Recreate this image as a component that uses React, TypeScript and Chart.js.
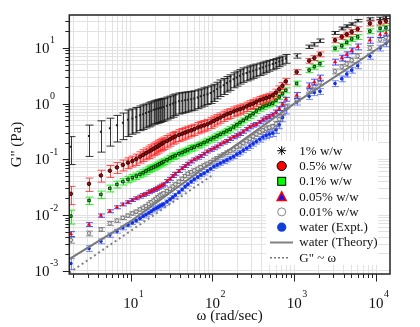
import React, { useEffect, useRef } from "react";
import { Chart, registerables } from "chart.js";
Chart.register(...registerables);

const FONT = "'Liberation Serif', 'DejaVu Serif', serif";

// shared frequencies (rad/s) of the dense low/mid-frequency measurement
const omegaDense = [1.86, 3.1, 4.33, 5.57, 6.8, 8.04, 9.27, 10.5, 11.7, 13.0, 14.2, 15.4, 16.7, 17.9, 19.1, 20.4, 21.6, 22.8, 24.1, 25.3, 27.8, 30.3, 32.7, 35.2, 38.9, 42.6, 46.3, 50, 55, 60, 66, 72, 79, 87, 95, 104, 114, 125, 137, 150, 165, 181, 198, 217, 238, 261, 286, 314, 344, 377, 413, 453, 497, 545, 597, 655, 718, 787];
// high-frequency measurement
const omegaHigh = [1070, 1520, 1760, 2060, 3150, 3800, 4370, 5030, 5960, 8400, 11200, 13200];

// 1% w/w
const g1Dense = [0.168, 0.262, 0.313, 0.36, 0.41, 0.452, 0.513, 0.543, 0.575, 0.617, 0.646, 0.676, 0.708, 0.741, 0.776, 0.794, 0.813, 0.832, 0.851, 0.871, 0.912, 0.955, 1.0, 1.05, 1.10, 1.12, 1.15, 1.17, 1.20, 1.23, 1.29, 1.35, 1.41, 1.48, 1.55, 1.66, 1.82, 2.0, 2.14, 2.34, 2.51, 2.75, 2.95, 3.16, 3.39, 3.55, 3.72, 3.89, 4.07, 4.27, 4.47, 4.68, 4.90, 5.13, 5.37, 5.69, 6.03, 6.46];
const g1High = [7.2, 10.5, 11.6, 13.5, 18.6, 22.4, 24.5, 26.9, 30.9, 33.1, 33.9, 35.5];
const e1Dense = [0.52, 0.57, 0.57, 0.52, 0.5, 0.5, 0.5, 0.48, 0.48, 0.47, 0.47, 0.46, 0.46, 0.46, 0.45, 0.45, 0.45, 0.45, 0.44, 0.44, 0.44, 0.43, 0.43, 0.42, 0.41, 0.4, 0.4, 0.39, 0.38, 0.38, 0.37, 0.36, 0.36, 0.35, 0.35, 0.34, 0.33, 0.33, 0.32, 0.31, 0.31, 0.3, 0.3, 0.29, 0.29, 0.28, 0.28, 0.27, 0.26, 0.25, 0.24, 0.23, 0.22, 0.21, 0.2, 0.19, 0.18, 0.18];
const e1High = [0.09, 0.07, 0.07, 0.07, 0.06, 0.06, 0.06, 0.05, 0.05, 0.05, 0.05, 0.05];

// 0.5% w/w
const g2Dense = [0.024, 0.0363, 0.0513, 0.0624, 0.0716, 0.0794, 0.0871, 0.0933, 0.101, 0.111, 0.120, 0.129, 0.138, 0.146, 0.155, 0.164, 0.172, 0.182, 0.191, 0.200, 0.214, 0.229, 0.245, 0.257, 0.275, 0.288, 0.302, 0.316, 0.331, 0.347, 0.372, 0.389, 0.407, 0.427, 0.457, 0.49, 0.525, 0.562, 0.603, 0.646, 0.676, 0.724, 0.759, 0.794, 0.832, 0.891, 0.955, 1.0, 1.07, 1.15, 1.20, 1.26, 1.32, 1.41, 1.58, 1.82, 2.09, 2.51];
const g2High = [3.7, 5.9, 6.6, 7.7, 13.8, 15.8, 17.5, 19.4, 21.8, 27.5, 28.8, 30.3];
const e2Dense = [0.36, 0.27, 0.24, 0.24, 0.22, 0.22, 0.22, 0.22, 0.23, 0.23, 0.24, 0.24, 0.25, 0.25, 0.25, 0.25, 0.25, 0.25, 0.25, 0.25, 0.25, 0.25, 0.24, 0.24, 0.24, 0.24, 0.24, 0.24, 0.23, 0.23, 0.23, 0.23, 0.22, 0.22, 0.22, 0.22, 0.21, 0.21, 0.21, 0.2, 0.2, 0.2, 0.2, 0.19, 0.19, 0.19, 0.18, 0.18, 0.18, 0.17, 0.17, 0.16, 0.16, 0.15, 0.15, 0.14, 0.14, 0.13];
const e2High = [0.1, 0.1, 0.1, 0.1, 0.1, 0.1, 0.1, 0.1, 0.1, 0.1, 0.1, 0.1];

// 0.1% w/w
const g3Dense = [0.00955, 0.0182, 0.0234, 0.0302, 0.0355, 0.0398, 0.0437, 0.0468, 0.0501, 0.0537, 0.0575, 0.0617, 0.0661, 0.0692, 0.0724, 0.0759, 0.0794, 0.0832, 0.0871, 0.0912, 0.0977, 0.105, 0.112, 0.117, 0.126, 0.132, 0.141, 0.148, 0.158, 0.166, 0.178, 0.186, 0.2, 0.214, 0.229, 0.245, 0.263, 0.282, 0.302, 0.324, 0.347, 0.38, 0.417, 0.457, 0.501, 0.55, 0.603, 0.661, 0.74, 0.813, 0.871, 0.933, 0.977, 1.02, 1.15, 1.32, 1.51, 1.74];
const g3High = [2.3, 4.0, 4.6, 5.2, 9.8, 10.9, 12.6, 14.5, 15.8, 20, 22.4, 23];
const e3Dense = [0.28, 0.15, 0.15, 0.14, 0.14, 0.13, 0.13, 0.13, 0.13, 0.13, 0.13, 0.13, 0.13, 0.13, 0.12, 0.12, 0.12, 0.12, 0.12, 0.12, 0.12, 0.12, 0.12, 0.12, 0.12, 0.12, 0.12, 0.12, 0.12, 0.12, 0.11, 0.11, 0.11, 0.11, 0.11, 0.11, 0.11, 0.11, 0.11, 0.11, 0.11, 0.11, 0.11, 0.11, 0.1, 0.1, 0.1, 0.1, 0.1, 0.1, 0.1, 0.1, 0.1, 0.1, 0.1, 0.1, 0.1, 0.1];
const e3High = [0.1, 0.1, 0.1, 0.1, 0.1, 0.1, 0.1, 0.1, 0.1, 0.1, 0.1, 0.1];

// 0.05% w/w
const g4Dense = [0.00457, 0.00676, 0.00977, 0.0117, 0.0138, 0.0155, 0.017, 0.0186, 0.02, 0.0214, 0.0229, 0.024, 0.0257, 0.0269, 0.0282, 0.0295, 0.0309, 0.0324, 0.0339, 0.0355, 0.0407, 0.0447, 0.0501, 0.055, 0.0617, 0.0692, 0.0759, 0.0832, 0.0912, 0.1, 0.107, 0.115, 0.126, 0.138, 0.148, 0.158, 0.17, 0.186, 0.2, 0.214, 0.234, 0.251, 0.269, 0.288, 0.316, 0.347, 0.38, 0.407, 0.427, 0.468, 0.513, 0.55, 0.589, 0.631, 0.708, 0.813, 0.977, 1.20];
const g4High = [1.41, 2.1, 2.45, 2.9, 5.6, 6.6, 7.6, 8.9, 10.5, 13.8, 17.4, 18.6];
const e4Dense = [0.1, 0.08, 0.07, 0.06, 0.06, 0.06, 0.06, 0.06, 0.06, 0.06, 0.06, 0.06, 0.06, 0.06, 0.06, 0.06, 0.06, 0.06, 0.06, 0.06, 0.06, 0.06, 0.06, 0.06, 0.06, 0.06, 0.06, 0.06, 0.06, 0.06, 0.06, 0.06, 0.06, 0.06, 0.06, 0.06, 0.06, 0.06, 0.06, 0.06, 0.07, 0.07, 0.07, 0.07, 0.07, 0.07, 0.07, 0.07, 0.07, 0.07, 0.08, 0.08, 0.08, 0.08, 0.08, 0.08, 0.08, 0.08];
const e4High = [0.12, 0.12, 0.12, 0.12, 0.12, 0.12, 0.12, 0.12, 0.12, 0.12, 0.12, 0.12];

// 0.01% w/w
const g5Dense = [0.00355, 0.00468, 0.0055, 0.00708, 0.00794, 0.00891, 0.00977, 0.0107, 0.0115, 0.0126, 0.0135, 0.0145, 0.0158, 0.017, 0.0182, 0.0195, 0.0209, 0.0224, 0.0234, 0.0245, 0.0269, 0.0295, 0.0324, 0.0355, 0.0398, 0.0447, 0.0501, 0.055, 0.0589, 0.0631, 0.0676, 0.0724, 0.0776, 0.0832, 0.0891, 0.0977, 0.105, 0.115, 0.123, 0.132, 0.141, 0.151, 0.166, 0.178, 0.195, 0.214, 0.234, 0.257, 0.282, 0.309, 0.331, 0.355, 0.372, 0.389, 0.437, 0.525, 0.676, 0.891];
const g5High = [1.2, 1.78, 2.04, 2.4, 3.8, 4.6, 5.2, 6.0, 7.2, 10, 14.1, 15.5];
const e5Dense = [0.12, 0.1, 0.08, 0.08, 0.07, 0.07, 0.07, 0.07, 0.07, 0.07, 0.07, 0.07, 0.07, 0.07, 0.07, 0.07, 0.07, 0.07, 0.07, 0.07, 0.07, 0.07, 0.07, 0.07, 0.07, 0.07, 0.07, 0.07, 0.07, 0.07, 0.07, 0.07, 0.07, 0.07, 0.07, 0.07, 0.07, 0.07, 0.07, 0.07, 0.07, 0.07, 0.07, 0.07, 0.07, 0.07, 0.08, 0.08, 0.08, 0.08, 0.08, 0.08, 0.08, 0.09, 0.09, 0.09, 0.1, 0.1];
const e5High = [0.1, 0.1, 0.1, 0.1, 0.1, 0.1, 0.1, 0.1, 0.1, 0.1, 0.1, 0.1];

// water (Expt.)
const g6Dense = [0.00135, 0.00251, 0.00339, 0.00437, 0.00513, 0.00589, 0.00661, 0.00724, 0.00794, 0.00871, 0.00955, 0.0102, 0.011, 0.0117, 0.0126, 0.0132, 0.0138, 0.0145, 0.0151, 0.0158, 0.0174, 0.0191, 0.0209, 0.0229, 0.0257, 0.0288, 0.0324, 0.0355, 0.0398, 0.0437, 0.0479, 0.0525, 0.0562, 0.0617, 0.0676, 0.0741, 0.0794, 0.0851, 0.0912, 0.0977, 0.105, 0.112, 0.123, 0.132, 0.145, 0.158, 0.174, 0.191, 0.209, 0.229, 0.251, 0.269, 0.282, 0.295, 0.339, 0.417, 0.562, 0.794];
const g6High = [1.07, 1.35, 1.58, 1.66, 2.3, 2.8, 3.4, 4.0, 4.8, 7.1, 10, 12];
const e6Dense = [0.22, 0.12, 0.1, 0.09, 0.08, 0.08, 0.07, 0.07, 0.07, 0.07, 0.07, 0.07, 0.07, 0.07, 0.07, 0.07, 0.07, 0.07, 0.07, 0.07, 0.07, 0.07, 0.07, 0.07, 0.07, 0.07, 0.07, 0.07, 0.07, 0.07, 0.07, 0.07, 0.07, 0.07, 0.07, 0.07, 0.08, 0.08, 0.08, 0.08, 0.08, 0.08, 0.08, 0.09, 0.09, 0.09, 0.1, 0.1, 0.1, 0.11, 0.11, 0.12, 0.12, 0.13, 0.14, 0.15, 0.16, 0.18];
const e6High = [0.12, 0.12, 0.12, 0.12, 0.12, 0.12, 0.12, 0.12, 0.12, 0.12, 0.12, 0.12];

// water (Theory) line and G'' ~ omega guide
const theoryOmega = [1.78, 10, 100, 1000, 14800];
const theoryG = [0.00162, 0.0077, 0.09, 1.0, 13.5];
const guideOmega = [1.78, 100];
const guideG = [0.00092, 0.052];

const seriesLabels = ["1% w/w", "0.5% w/w", "0.1% w/w", "0.05% w/w", "0.01% w/w", "water (Expt.)", "water (Theory)", "G\" ~ ω"];

const xMinorTicks = [2, 3, 4, 5, 6, 7, 8, 9, 20, 30, 40, 50, 60, 70, 80, 90, 200, 300, 400, 500, 600, 700, 800, 900, 2000, 3000, 4000, 5000, 6000, 7000, 8000, 9000];
const xMajorTicks = [10, 100, 1000, 10000];
const xMajorExp = ["1", "2", "3", "4"];
const yMinorTicks = [0.002, 0.003, 0.004, 0.005, 0.006, 0.007, 0.008, 0.009, 0.02, 0.03, 0.04, 0.05, 0.06, 0.07, 0.08, 0.09, 0.2, 0.3, 0.4, 0.5, 0.6, 0.7, 0.8, 0.9, 2, 3, 4, 5, 6, 7, 8, 9, 20, 30];
const yMajorTicks = [0.001, 0.01, 0.1, 1, 10];
const yMajorExp = ["-3", "-2", "-1", "0", "1"];

const X_MIN = 1.78, X_MAX = 14800, Y_MIN = 0.000873, Y_MAX = 39;

function pts(xa: number[], ya: number[]) {
  return xa.map((x, i) => ({ x, y: ya[i] }));
}

const errorBarPlugin = {
  id: "errbars",
  beforeDatasetDraw(chart: any, args: any) {
    const ds = chart.data.datasets[args.index];
    if (!ds.errs) return;
    const { ctx, chartArea: a, scales } = chart;
    const xs = scales.x, ys = scales.y;
    ctx.save();
    ctx.beginPath();
    ctx.rect(a.left, a.top, a.right - a.left, a.bottom - a.top);
    ctx.clip();
    ctx.strokeStyle = ds.errColor;
    const cap = ds.cap;
    const pxs = ds.data.map((p: any) => xs.getPixelForValue(p.x));
    ds.data.forEach((p: any, i: number) => {
      const gapL = i > 0 ? pxs[i] - pxs[i - 1] : 99;
      const gapR = i < pxs.length - 1 ? pxs[i + 1] - pxs[i] : 99;
      const gap = Math.min(gapL, gapR);
      ctx.lineWidth = gap < 5 ? 1.9 : 1;
      const d = ds.errs[i] * p.y;
      const px = Math.round(pxs[i]) + 0.5;
      const top = ys.getPixelForValue(p.y + d);
      const lo = p.y - d;
      const bot = lo > 0 ? ys.getPixelForValue(lo) : a.bottom + 5;
      ctx.beginPath();
      ctx.moveTo(px, top); ctx.lineTo(px, bot);
      ctx.stroke();
      ctx.lineWidth = 1;
      ctx.beginPath();
      ctx.moveTo(px - cap, top); ctx.lineTo(px + cap, top);
      ctx.moveTo(px - cap, bot); ctx.lineTo(px + cap, bot);
      ctx.stroke();
    });
    ctx.restore();
  },
};

function drawStar(ctx: CanvasRenderingContext2D, x: number, y: number, r: number) {
  ctx.beginPath();
  for (let k = 0; k < 4; k++) {
    const ang = (k * Math.PI) / 4;
    ctx.moveTo(x - r * Math.cos(ang), y - r * Math.sin(ang));
    ctx.lineTo(x + r * Math.cos(ang), y + r * Math.sin(ang));
  }
  ctx.stroke();
}

const decorPlugin = {
  id: "decor",
  afterDraw(chart: any) {
    const { ctx, chartArea: a, scales } = chart;
    const xs = scales.x, ys = scales.y;
    ctx.save();

    // legend
    ctx.fillStyle = "#ffffff";
    ctx.fillRect(266, 141, 112, 124);
    const symX = 281.7, textX = 299.3;
    ctx.font = `13px ${FONT}`;
    ctx.textBaseline = "middle";
    ctx.textAlign = "left";
    seriesLabels.forEach((lab, i) => {
      const cy = 150.7 + 15.3 * i;
      ctx.lineWidth = 1;
      ctx.setLineDash([]);
      if (i === 0) {
        ctx.strokeStyle = "#000"; drawStar(ctx, symX, cy, 4.5);
      } else if (i === 1) {
        ctx.beginPath(); ctx.arc(symX, cy, 4.6, 0, Math.PI * 2);
        ctx.fillStyle = "#ff0000"; ctx.fill(); ctx.strokeStyle = "#000"; ctx.stroke();
      } else if (i === 2) {
        ctx.fillStyle = "#00ff00"; ctx.fillRect(symX - 4, cy - 4, 8, 8);
        ctx.strokeStyle = "#000"; ctx.strokeRect(symX - 4, cy - 4, 8, 8);
      } else if (i === 3) {
        ctx.beginPath(); ctx.moveTo(symX, cy - 4.8); ctx.lineTo(symX + 4.5, cy + 3.8); ctx.lineTo(symX - 4.5, cy + 3.8); ctx.closePath();
        ctx.fillStyle = "#1010ff"; ctx.fill(); ctx.strokeStyle = "#ff0000"; ctx.lineWidth = 1.5; ctx.stroke();
      } else if (i === 4) {
        ctx.beginPath(); ctx.arc(symX, cy, 4, 0, Math.PI * 2);
        ctx.fillStyle = "#fff"; ctx.fill(); ctx.strokeStyle = "#888"; ctx.stroke();
      } else if (i === 5) {
        ctx.beginPath(); ctx.arc(symX, cy, 4.6, 0, Math.PI * 2);
        ctx.fillStyle = "#1040d8"; ctx.fill();
      } else if (i === 6) {
        ctx.beginPath(); ctx.moveTo(270, cy); ctx.lineTo(293, cy);
        ctx.strokeStyle = "#808080"; ctx.lineWidth = 2; ctx.stroke();
      } else {
        ctx.beginPath(); ctx.setLineDash([2, 2]); ctx.moveTo(270, cy); ctx.lineTo(288, cy);
        ctx.strokeStyle = "#777"; ctx.lineWidth = 1.5; ctx.stroke(); ctx.setLineDash([]);
      }
      ctx.fillStyle = "#111";
      ctx.fillText(lab, textX, cy + 0.5);
    });

    // frame
    ctx.strokeStyle = "#222";
    ctx.lineWidth = 1.5;
    ctx.strokeRect(a.left, a.top, a.right - a.left, a.bottom - a.top);

    // tick marks
    ctx.lineWidth = 1;
    ctx.strokeStyle = "#222";
    ctx.beginPath();
    xMinorTicks.forEach((v) => { const px = Math.round(xs.getPixelForValue(v)) + 0.5; ctx.moveTo(px, a.bottom); ctx.lineTo(px, a.bottom + 4); });
    xMajorTicks.forEach((v) => { const px = Math.round(xs.getPixelForValue(v)) + 0.5; ctx.moveTo(px, a.bottom); ctx.lineTo(px, a.bottom + 7.5); });
    yMinorTicks.forEach((v) => { const py = Math.round(ys.getPixelForValue(v)) + 0.5; ctx.moveTo(a.left, py); ctx.lineTo(a.left - 4, py); });
    yMajorTicks.forEach((v) => { const py = Math.round(ys.getPixelForValue(v)) + 0.5; ctx.moveTo(a.left, py); ctx.lineTo(a.left - 6.5, py); });
    ctx.stroke();

    // tick labels
    ctx.fillStyle = "#111";
    ctx.textBaseline = "alphabetic";
    xMajorTicks.forEach((v, i) => {
      const px = xs.getPixelForValue(v);
      ctx.font = `15px ${FONT}`;
      ctx.textAlign = "center";
      ctx.fillText("10", px, 308);
      const w = ctx.measureText("10").width;
      ctx.font = `10px ${FONT}`;
      ctx.textAlign = "left";
      ctx.fillText(xMajorExp[i], px + w / 2 + 0.5, 297);
    });
    yMajorTicks.forEach((v, i) => {
      const py = ys.getPixelForValue(v);
      ctx.font = `15px ${FONT}`;
      ctx.textAlign = "right";
      ctx.fillText("10", 49.5, py + 5);
      ctx.font = `10px ${FONT}`;
      ctx.textAlign = "left";
      ctx.fillText(yMajorExp[i], 50, py - 4.5);
    });

    // axis titles
    ctx.font = `15px ${FONT}`;
    ctx.textAlign = "center";
    ctx.fillText("ω (rad/sec)", (a.left + a.right) / 2, 320);
    ctx.save();
    ctx.translate(17, (a.top + a.bottom) / 2);
    ctx.rotate(-Math.PI / 2);
    ctx.textBaseline = "middle";
    ctx.fillText("G\" (Pa)", 0, 0);
    ctx.restore();

    ctx.restore();
  },
};

function makeSeries(dense: number[], high: number[], eD: number[], eH: number[]) {
  return {
    data: [...pts(omegaDense, dense), ...pts(omegaHigh, high)],
    errs: [...eD, ...eH],
  };
}

export default function App() {
  const ref = useRef<HTMLCanvasElement | null>(null);
  useEffect(() => {
    document.body.style.margin = "0";
    const s1 = makeSeries(g1Dense, g1High, e1Dense, e1High);
    const s2 = makeSeries(g2Dense, g2High, e2Dense, e2High);
    const s3 = makeSeries(g3Dense, g3High, e3Dense, e3High);
    const s4 = makeSeries(g4Dense, g4High, e4Dense, e4High);
    const s5 = makeSeries(g5Dense, g5High, e5Dense, e5High);
    const s6 = makeSeries(g6Dense, g6High, e6Dense, e6High);
    const gridOpts = { color: "#e2e2e2", lineWidth: 1, drawTicks: false };
    const chart = new Chart(ref.current as HTMLCanvasElement, {
      type: "scatter",
      data: {
        datasets: [
          { label: seriesLabels[7], data: pts(guideOmega, guideG), showLine: true, borderColor: "#808080", borderWidth: 2, borderDash: [2, 3], pointRadius: 0 } as any,
          { label: seriesLabels[6], data: pts(theoryOmega, theoryG), showLine: true, borderColor: "#7a7a7a", borderWidth: 2, pointRadius: 0 } as any,
          { label: seriesLabels[0], ...s1, errColor: "rgba(20,20,20,0.85)", cap: 4, pointStyle: "rect", pointRadius: 1.4, backgroundColor: "#222", borderColor: "#000", borderWidth: 0 } as any,
          { label: seriesLabels[1], ...s2, errColor: "rgba(255,20,20,0.75)", cap: 4, pointStyle: "circle", pointRadius: 1.8, backgroundColor: "#b00000", borderColor: "#000", borderWidth: 0.8 } as any,
          { label: seriesLabels[2], ...s3, errColor: "rgba(0,235,0,0.85)", cap: 4, pointStyle: "rect", pointRadius: 1.8, backgroundColor: "#00ee00", borderColor: "#000", borderWidth: 0.8 } as any,
          { label: seriesLabels[3], ...s4, errColor: "rgba(30,30,255,0.75)", cap: 3.5, pointStyle: "triangle", pointRadius: 2, backgroundColor: "#ff0000", borderColor: "#ff0000", borderWidth: 0.5 } as any,
          { label: seriesLabels[4], ...s5, errColor: "rgba(120,120,120,0.8)", cap: 3.5, pointStyle: "circle", pointRadius: 1.8, backgroundColor: "rgba(230,230,230,0.9)", borderColor: "#666", borderWidth: 0.8 } as any,
          { label: seriesLabels[5], ...s6, errColor: "rgba(40,70,255,0.6)", cap: 3.5, pointStyle: "circle", pointRadius: 1.8, backgroundColor: "#1030e0", borderColor: "#1030e0", borderWidth: 0 } as any,
        ],
      },
      options: {
        animation: false,
        responsive: false,
        devicePixelRatio: 1,
        events: [],
        layout: { padding: { top: 15, right: 30, left: 0, bottom: 0 } },
        plugins: { legend: { display: false }, tooltip: { enabled: false } },
        scales: {
          x: {
            type: "logarithmic", position: "bottom", min: X_MIN, max: X_MAX,
            afterBuildTicks: (s: any) => { s.ticks = [...xMinorTicks, ...xMajorTicks].sort((p, q) => p - q).map((v) => ({ value: v })); },
            afterFit: (s: any) => { s.height = 53; },
            ticks: { display: false }, border: { display: false }, grid: gridOpts,
          },
          y: {
            type: "logarithmic", position: "left", min: Y_MIN, max: Y_MAX,
            afterBuildTicks: (s: any) => { s.ticks = [...yMinorTicks, ...yMajorTicks].sort((p, q) => p - q).map((v) => ({ value: v })); },
            afterFit: (s: any) => { s.width = 69.3; },
            ticks: { display: false }, border: { display: false }, grid: gridOpts,
          },
        },
      } as any,
      plugins: [errorBarPlugin, decorPlugin],
    });
    return () => chart.destroy();
  }, []);
  return (
    <div style={{ position: "absolute", left: 0, top: 0, width: 420, height: 327, background: "#fff" }}>
      <canvas ref={ref} width={420} height={327} style={{ width: 420, height: 327 }} />
    </div>
  );
}
